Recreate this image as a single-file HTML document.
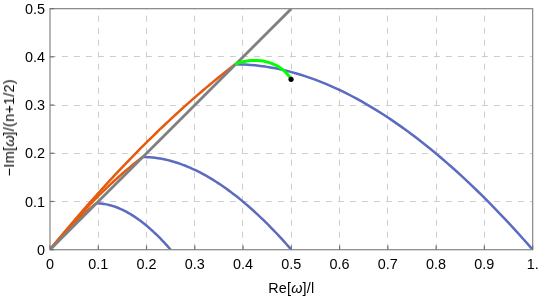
<!DOCTYPE html>
<html><head><meta charset="utf-8"><style>html,body{margin:0;padding:0;background:#fff}svg{display:block}</style></head><body><svg width="540" height="297" viewBox="0 0 540 297"><defs><clipPath id="c"><rect x="50.00" y="8.65" width="482.65" height="241.05"/></clipPath><filter id="f" x="-5%" y="-5%" width="110%" height="110%"><feOffset dx="0" dy="0"/></filter></defs><rect width="540" height="297" fill="#fff"/><g stroke="#cdcdcd" stroke-width="1" stroke-dasharray="6 6" fill="none"><line x1="98.50" y1="249.70" x2="98.50" y2="8.65" stroke-dashoffset="0"/><line x1="146.50" y1="249.70" x2="146.50" y2="8.65" stroke-dashoffset="0"/><line x1="194.50" y1="249.70" x2="194.50" y2="8.65" stroke-dashoffset="0"/><line x1="242.50" y1="249.70" x2="242.50" y2="8.65" stroke-dashoffset="0"/><line x1="291.50" y1="249.70" x2="291.50" y2="8.65" stroke-dashoffset="0"/><line x1="339.50" y1="249.70" x2="339.50" y2="8.65" stroke-dashoffset="0"/><line x1="387.50" y1="249.70" x2="387.50" y2="8.65" stroke-dashoffset="0"/><line x1="436.50" y1="249.70" x2="436.50" y2="8.65" stroke-dashoffset="0"/><line x1="484.50" y1="249.70" x2="484.50" y2="8.65" stroke-dashoffset="0"/><line x1="50.00" y1="201.50" x2="532.65" y2="201.50" stroke-dashoffset="0.1"/><line x1="50.00" y1="153.50" x2="532.65" y2="153.50" stroke-dashoffset="0.1"/><line x1="50.00" y1="105.50" x2="532.65" y2="105.50" stroke-dashoffset="0.1"/><line x1="50.00" y1="56.50" x2="532.65" y2="56.50" stroke-dashoffset="0.1"/></g><g clip-path="url(#c)"><path d="M96.27 203.36 L97.53 203.37 L98.80 203.42 L100.06 203.50 L101.32 203.61 L102.58 203.75 L103.84 203.93 L105.10 204.13 L106.36 204.36 L107.62 204.62 L108.88 204.91 L110.14 205.23 L111.40 205.58 L112.66 205.96 L113.93 206.36 L115.19 206.80 L116.45 207.26 L117.71 207.74 L118.97 208.26 L120.23 208.80 L121.49 209.36 L122.75 209.95 L124.01 210.57 L125.27 211.21 L126.53 211.88 L127.79 212.58 L129.06 213.30 L130.32 214.04 L131.58 214.81 L132.84 215.60 L134.10 216.41 L135.36 217.25 L136.62 218.11 L137.88 219.00 L139.14 219.91 L140.40 220.84 L141.66 221.79 L142.92 222.77 L144.19 223.77 L145.45 224.79 L146.71 225.83 L147.97 226.90 L149.23 227.99 L150.49 229.10 L151.75 230.23 L153.01 231.38 L154.27 232.55 L155.53 233.75 L156.79 234.96 L158.05 236.20 L159.32 237.46 L160.58 238.73 L161.84 240.03 L163.10 241.35 L164.36 242.69 L165.62 244.05 L166.88 245.44 L168.14 246.84 L169.40 248.26 L170.66 249.70" stroke="#5b6bbf" stroke-width="2.5" fill="none" stroke-linejoin="round"/><path d="M142.55 157.02 L145.07 157.05 L147.59 157.14 L150.11 157.30 L152.63 157.53 L155.16 157.81 L157.68 158.15 L160.20 158.56 L162.72 159.02 L165.24 159.55 L167.76 160.13 L170.29 160.77 L172.81 161.47 L175.33 162.22 L177.85 163.03 L180.37 163.89 L182.89 164.81 L185.42 165.78 L187.94 166.81 L190.46 167.89 L192.98 169.02 L195.50 170.21 L198.02 171.44 L200.55 172.73 L203.07 174.07 L205.59 175.45 L208.11 176.89 L210.63 178.38 L213.15 179.91 L215.68 181.49 L218.20 183.12 L220.72 184.80 L223.24 186.53 L225.76 188.30 L228.28 190.11 L230.81 191.98 L233.33 193.88 L235.85 195.84 L238.37 197.84 L240.89 199.88 L243.41 201.97 L245.94 204.10 L248.46 206.27 L250.98 208.49 L253.50 210.75 L256.02 213.06 L258.54 215.40 L261.07 217.79 L263.59 220.22 L266.11 222.70 L268.63 225.21 L271.15 227.77 L273.67 230.37 L276.20 233.01 L278.72 235.69 L281.24 238.41 L283.76 241.17 L286.28 243.97 L288.80 246.82 L291.32 249.70" stroke="#5b6bbf" stroke-width="2.5" fill="none" stroke-linejoin="round"/><path d="M235.10 64.33 L240.14 64.40 L245.18 64.59 L250.23 64.91 L255.27 65.35 L260.31 65.92 L265.36 66.61 L270.40 67.42 L275.44 68.35 L280.49 69.39 L285.53 70.56 L290.57 71.84 L295.62 73.23 L300.66 74.74 L305.70 76.36 L310.75 78.08 L315.79 79.92 L320.83 81.87 L325.88 83.92 L330.92 86.08 L335.96 88.35 L341.01 90.72 L346.05 93.19 L351.09 95.76 L356.14 98.43 L361.18 101.21 L366.22 104.08 L371.26 107.05 L376.31 110.12 L381.35 113.29 L386.39 116.55 L391.44 119.90 L396.48 123.35 L401.52 126.89 L406.57 130.53 L411.61 134.25 L416.65 138.07 L421.70 141.98 L426.74 145.97 L431.78 150.06 L436.83 154.23 L441.87 158.50 L446.91 162.85 L451.96 167.28 L457.00 171.80 L462.04 176.41 L467.09 181.11 L472.13 185.88 L477.17 190.75 L482.22 195.69 L487.26 200.72 L492.30 205.84 L497.35 211.03 L502.39 216.31 L507.43 221.67 L512.48 227.12 L517.52 232.64 L522.56 238.25 L527.61 243.94 L532.65 249.70" stroke="#5b6bbf" stroke-width="2.5" fill="none" stroke-linejoin="round"/><path d="M50.00 249.70 L50.78 248.74 L51.57 247.78 L52.35 246.83 L53.14 245.89 L53.92 244.95 L54.71 244.02 L55.49 243.09 L56.27 242.17 L57.06 241.26 L57.84 240.35 L58.63 239.45 L59.41 238.55 L60.20 237.66 L60.98 236.78 L61.76 235.90 L62.55 235.03 L63.33 234.17 L64.12 233.31 L64.90 232.45 L65.69 231.61 L66.47 230.77 L67.25 229.93 L68.04 229.10 L68.82 228.28 L69.61 227.47 L70.39 226.66 L71.18 225.85 L71.96 225.06 L72.74 224.26 L73.53 223.48 L74.31 222.70 L75.10 221.93 L75.88 221.16 L76.67 220.40 L77.45 219.64 L78.24 218.89 L79.02 218.15 L79.80 217.41 L80.59 216.68 L81.37 215.96 L82.16 215.24 L82.94 214.53 L83.73 213.82 L84.51 213.12 L85.29 212.43 L86.08 211.74 L86.86 211.06 L87.65 210.38 L88.43 209.72 L89.22 209.05 L90.00 208.40 L90.78 207.74 L91.57 207.10 L92.35 206.46 L93.14 205.83 L93.92 205.20 L94.71 204.58 L95.49 203.97 L96.27 203.36" stroke="#e65a0e" stroke-width="2.5" fill="none" stroke-linejoin="round"/><path d="M50.00 249.70 L51.57 247.77 L53.14 245.86 L54.71 243.96 L56.27 242.07 L57.84 240.20 L59.41 238.33 L60.98 236.48 L62.55 234.64 L64.12 232.81 L65.69 231.00 L67.25 229.19 L68.82 227.40 L70.39 225.62 L71.96 223.86 L73.53 222.10 L75.10 220.36 L76.67 218.63 L78.24 216.91 L79.80 215.21 L81.37 213.52 L82.94 211.83 L84.51 210.17 L86.08 208.51 L87.65 206.87 L89.22 205.23 L90.78 203.61 L92.35 202.01 L93.92 200.41 L95.49 198.83 L97.06 197.26 L98.63 195.70 L100.20 194.15 L101.76 192.62 L103.33 191.10 L104.90 189.59 L106.47 188.09 L108.04 186.60 L109.61 185.13 L111.18 183.67 L112.74 182.22 L114.31 180.78 L115.88 179.36 L117.45 177.95 L119.02 176.55 L120.59 175.16 L122.16 173.78 L123.72 172.42 L125.29 171.07 L126.86 169.73 L128.43 168.40 L130.00 167.09 L131.57 165.79 L133.14 164.50 L134.71 163.22 L136.27 161.96 L137.84 160.70 L139.41 159.46 L140.98 158.23 L142.55 157.02" stroke="#e65a0e" stroke-width="2.5" fill="none" stroke-linejoin="round"/><path d="M50.00 249.70 L53.14 245.85 L56.27 242.02 L59.41 238.22 L62.55 234.44 L65.69 230.69 L68.82 226.96 L71.96 223.26 L75.10 219.58 L78.24 215.92 L81.37 212.29 L84.51 208.69 L87.65 205.11 L90.78 201.55 L93.92 198.02 L97.06 194.51 L100.20 191.02 L103.33 187.56 L106.47 184.13 L109.61 180.72 L112.74 177.33 L115.88 173.97 L119.02 170.63 L122.16 167.32 L125.29 164.03 L128.43 160.77 L131.57 157.53 L134.71 154.31 L137.84 151.12 L140.98 147.95 L144.12 144.81 L147.25 141.70 L150.39 138.60 L153.53 135.53 L156.67 132.49 L159.80 129.47 L162.94 126.48 L166.08 123.50 L169.21 120.56 L172.35 117.64 L175.49 114.74 L178.63 111.87 L181.76 109.02 L184.90 106.19 L188.04 103.39 L191.18 100.62 L194.31 97.87 L197.45 95.14 L200.59 92.44 L203.72 89.76 L206.86 87.11 L210.00 84.48 L213.14 81.88 L216.27 79.30 L219.41 76.74 L222.55 74.21 L225.68 71.70 L228.82 69.22 L231.96 66.77 L235.10 64.33" stroke="#e65a0e" stroke-width="2.5" fill="none" stroke-linejoin="round"/><path d="M50.00 249.70 L291.32 8.65" stroke="#808080" stroke-width="2.8" fill="none"/><path d="M235.10 64.33 L236.29 63.83 L237.53 63.35 L238.80 62.91 L240.12 62.49 L241.47 62.11 L242.86 61.76 L244.28 61.45 L245.73 61.18 L247.20 60.95 L248.70 60.76 L250.22 60.60 L251.76 60.50 L253.31 60.43 L254.88 60.41 L256.46 60.44 L258.05 60.52 L259.64 60.65 L261.24 60.83 L262.83 61.06 L264.43 61.35 L266.02 61.69 L267.61 62.09 L269.18 62.55 L270.75 63.07 L272.30 63.65 L273.83 64.30 L275.35 65.01 L276.84 65.78 L278.31 66.62 L279.75 67.53 L281.16 68.51 L282.54 69.56 L283.88 70.68 L285.19 71.88 L286.46 73.16 L287.69 74.51 L288.87 75.94 L290.00 77.45 L291.08 79.04" stroke="#00ff00" stroke-width="3" fill="none" stroke-linejoin="round"/></g><circle cx="291.08" cy="79.33" r="2.6" fill="#000"/><rect x="50.00" y="8.65" width="482.65" height="241.05" fill="none" stroke="#8e8e8e" stroke-width="1.3"/><g stroke="#707070" stroke-width="1.2"><line x1="50.00" y1="249.70" x2="50.00" y2="245.50"/><line x1="98.27" y1="249.70" x2="98.27" y2="245.50"/><line x1="146.53" y1="249.70" x2="146.53" y2="245.50"/><line x1="194.80" y1="249.70" x2="194.80" y2="245.50"/><line x1="243.06" y1="249.70" x2="243.06" y2="245.50"/><line x1="291.32" y1="249.70" x2="291.32" y2="245.50"/><line x1="339.59" y1="249.70" x2="339.59" y2="245.50"/><line x1="387.86" y1="249.70" x2="387.86" y2="245.50"/><line x1="436.12" y1="249.70" x2="436.12" y2="245.50"/><line x1="484.38" y1="249.70" x2="484.38" y2="245.50"/><line x1="532.65" y1="249.70" x2="532.65" y2="245.50"/><line x1="50.00" y1="249.70" x2="54.20" y2="249.70"/><line x1="50.00" y1="201.49" x2="54.20" y2="201.49"/><line x1="50.00" y1="153.28" x2="54.20" y2="153.28"/><line x1="50.00" y1="105.07" x2="54.20" y2="105.07"/><line x1="50.00" y1="56.86" x2="54.20" y2="56.86"/><line x1="50.00" y1="8.65" x2="54.20" y2="8.65"/></g><g font-family="Liberation Sans, sans-serif" font-size="14.4" fill="#000" filter="url(#f)"><text x="50.00" y="268.7" text-anchor="middle">0</text><text x="98.27" y="268.7" text-anchor="middle">0.1</text><text x="146.53" y="268.7" text-anchor="middle">0.2</text><text x="194.80" y="268.7" text-anchor="middle">0.3</text><text x="243.06" y="268.7" text-anchor="middle">0.4</text><text x="291.32" y="268.7" text-anchor="middle">0.5</text><text x="339.59" y="268.7" text-anchor="middle">0.6</text><text x="387.86" y="268.7" text-anchor="middle">0.7</text><text x="436.12" y="268.7" text-anchor="middle">0.8</text><text x="484.38" y="268.7" text-anchor="middle">0.9</text><text x="532.65" y="268.7" text-anchor="middle">1.</text><text x="45" y="254.80" text-anchor="end">0</text><text x="45" y="206.59" text-anchor="end">0.1</text><text x="45" y="158.38" text-anchor="end">0.2</text><text x="45" y="110.17" text-anchor="end">0.3</text><text x="45" y="61.96" text-anchor="end">0.4</text><text x="45" y="13.75" text-anchor="end">0.5</text></g><g font-family="Liberation Sans, sans-serif" font-size="14.4" fill="#000" filter="url(#f)"><text x="291.3" y="292.8" text-anchor="middle" letter-spacing="0.2">Re[<tspan font-style="italic">ω</tspan>]/l</text><text transform="translate(14,176.5) rotate(-90)" text-anchor="start"><tspan letter-spacing="0.4">−Im[<tspan font-style="italic">ω</tspan><tspan dx="-0.8">]</tspan>/</tspan><tspan letter-spacing="0.25">(n+1/2)</tspan></text></g></svg></body></html>
